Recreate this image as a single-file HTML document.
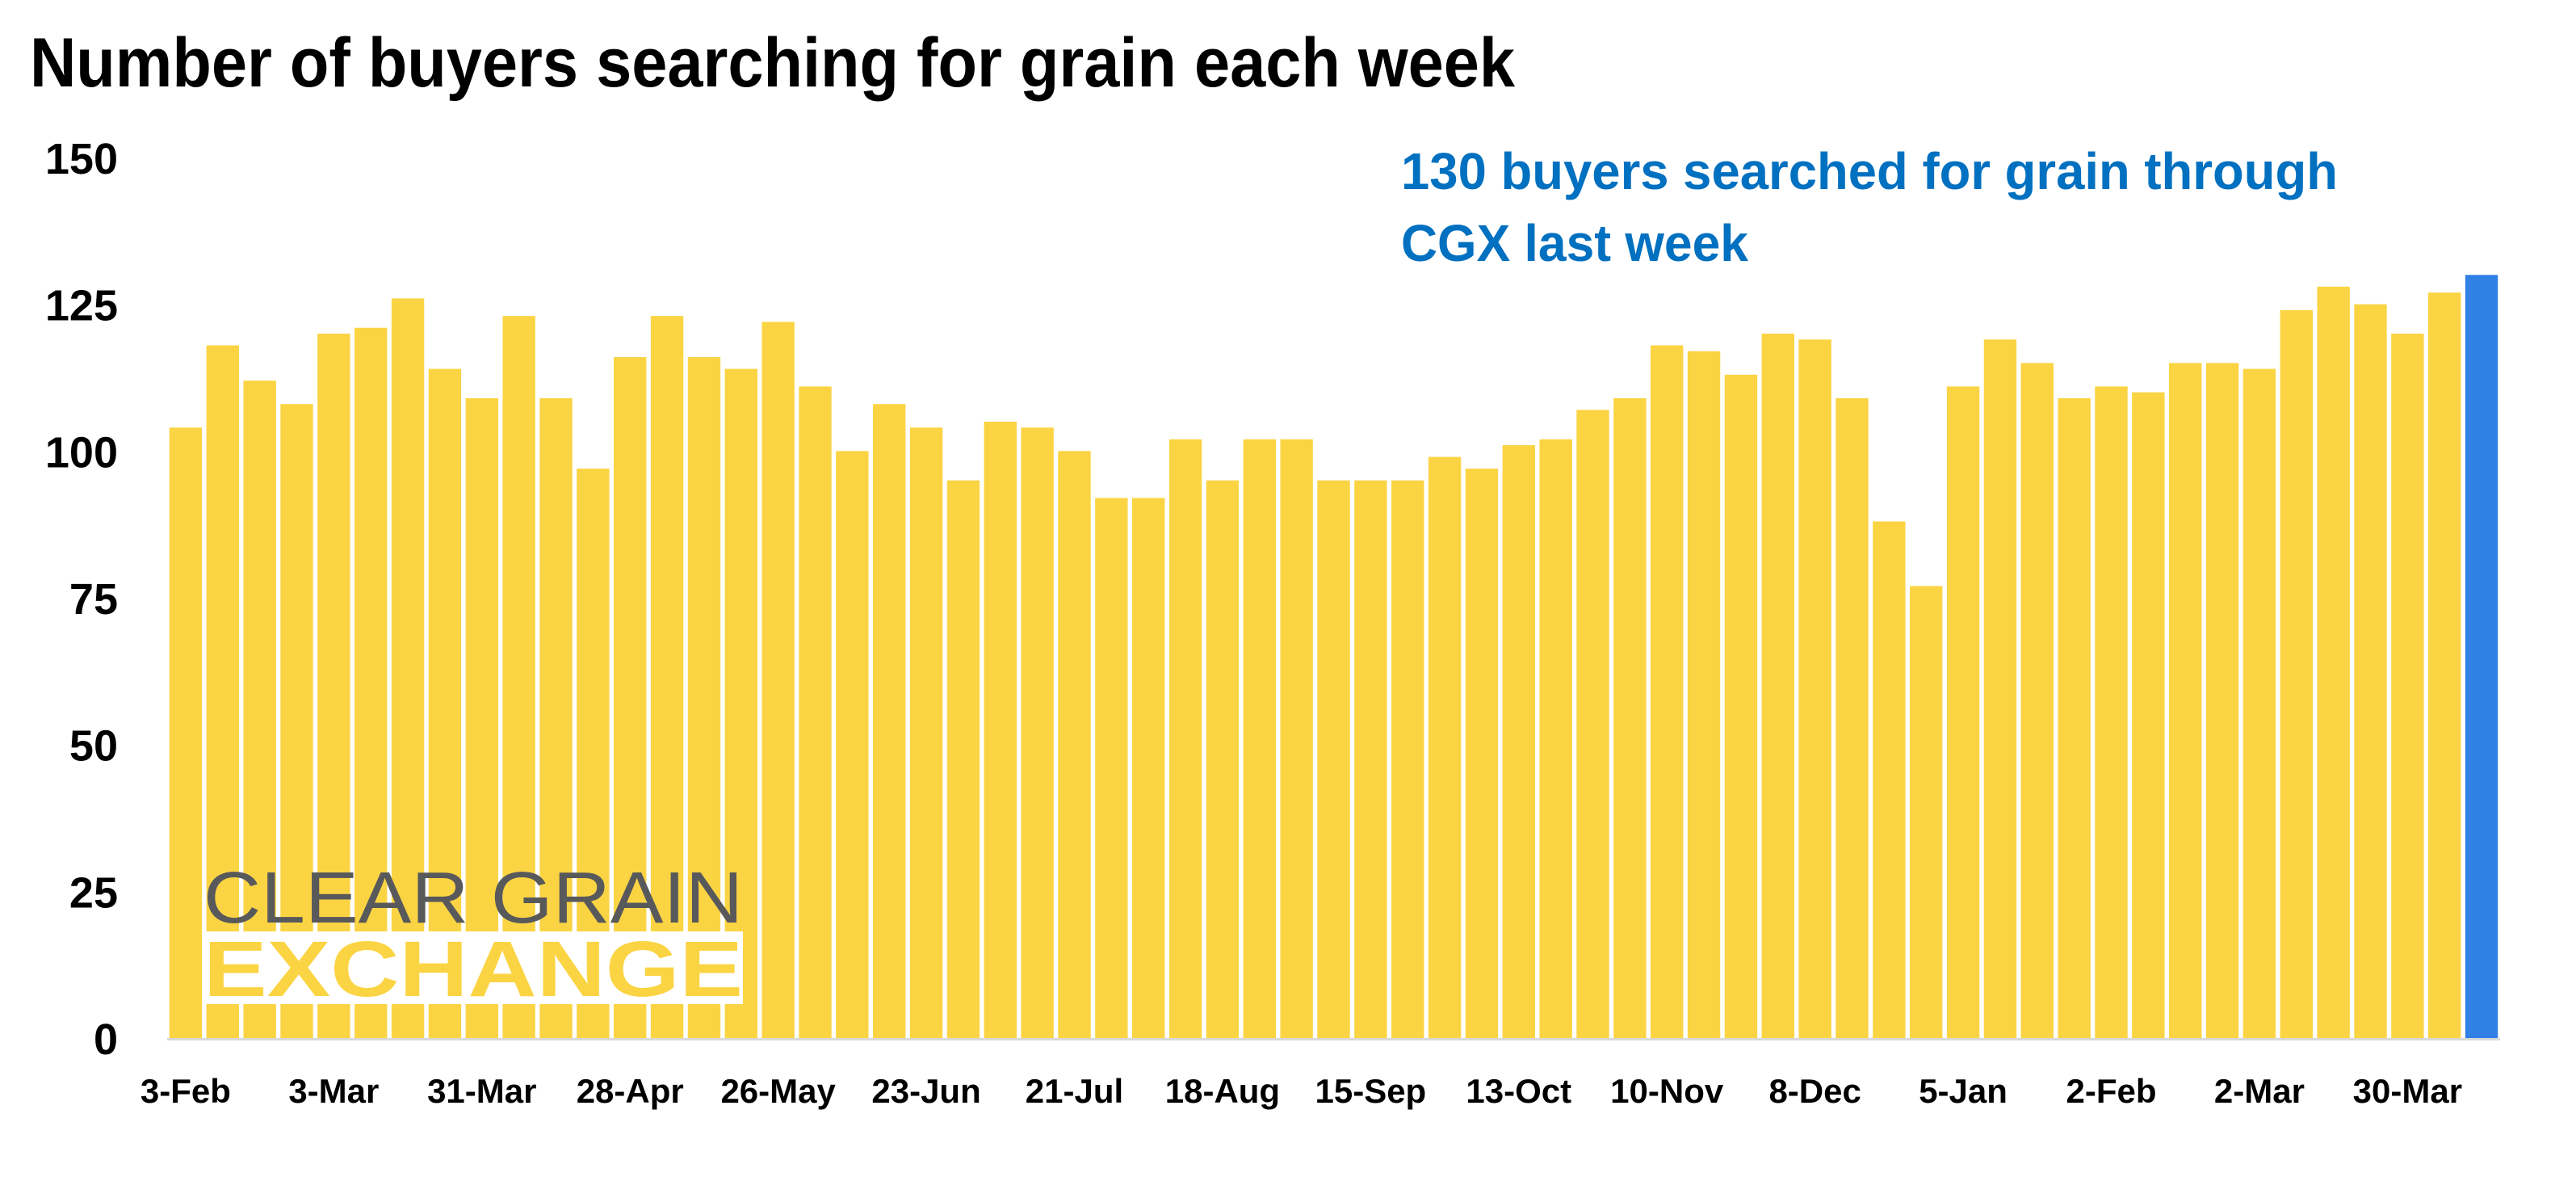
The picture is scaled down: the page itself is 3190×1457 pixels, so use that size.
<!DOCTYPE html>
<html><head><meta charset="utf-8"><style>
html,body{margin:0;padding:0;background:#fff;width:3190px;height:1457px;overflow:hidden}
svg{display:block}
</style></head><body>
<svg id="chart" width="3190" height="1457" viewBox="0 0 3190 1457" xmlns="http://www.w3.org/2000/svg" font-family="'Liberation Sans', sans-serif">
<text x="37" y="107" font-size="86" font-weight="bold" fill="#000" textLength="1839" lengthAdjust="spacingAndGlyphs">Number of buyers searching for grain each week</text>
<g id="yaxis"></g>
<g id="bars"></g>
<g id="xaxis"></g>
<g>
<text x="252" y="1142" font-size="90" fill="#58595b" textLength="668" lengthAdjust="spacingAndGlyphs">CLEAR GRAIN</text>
<rect x="252" y="1153" width="668" height="90" fill="#fff"/>
<text x="252" y="1233" font-size="97" font-weight="bold" fill="#fbd443" textLength="668" lengthAdjust="spacingAndGlyphs">EXCHANGE</text>
</g>
<text x="1735" y="234" font-size="64" font-weight="bold" fill="#0070c0" textLength="1160" lengthAdjust="spacingAndGlyphs">130 buyers searched for grain through</text>
<text x="1735" y="323" font-size="64" font-weight="bold" fill="#0070c0" textLength="430" lengthAdjust="spacingAndGlyphs">CGX last week</text>
</svg>
<script>
const values = [104,118,112,108,120,121,126,114,109,123,109,97,116,123,116,114,122,111,100,108,104,95,105,104,100,92,92,102,95,102,102,95,95,95,99,97,101,102,107,109,118,117,113,120,119,109,88,77,111,119,115,109,111,110,115,115,114,124,128,125,120,127,130];
const xLabels = ["3-Feb","3-Mar","31-Mar","28-Apr","26-May","23-Jun","21-Jul","18-Aug","15-Sep","13-Oct","10-Nov","8-Dec","5-Jan","2-Feb","2-Mar","30-Mar"];
const yTicks = [0,25,50,75,100,125,150];

const NS = "http://www.w3.org/2000/svg";
const x0 = 207, x1 = 3096, yBase = 1285, yTop = 195, yMax = 150;
const pitch = (x1 - x0) / values.length;
const barW = pitch - 5.5;
function yScale(v){ return yBase - (v / yMax) * (yBase - yTop); }
function xCenter(i){ return x0 + (i + 0.5) * pitch; }

const barsG = document.getElementById('bars');
values.forEach((v, i) => {
  const r = document.createElementNS(NS, 'rect');
  r.setAttribute('x', xCenter(i) - barW / 2);
  r.setAttribute('y', yScale(v));
  r.setAttribute('width', barW);
  r.setAttribute('height', yBase - yScale(v));
  r.setAttribute('fill', i === values.length - 1 ? '#3180e6' : '#fbd443');
  
  
  barsG.appendChild(r);
});

const yG = document.getElementById('yaxis');
yTicks.forEach(t => {
  const tx = document.createElementNS(NS, 'text');
  tx.setAttribute('x', 146);
  tx.setAttribute('y', yScale(t) + 20);
  tx.setAttribute('text-anchor', 'end');
  tx.setAttribute('font-size', '54');
  tx.setAttribute('font-weight', 'bold');
  tx.textContent = t;
  
  
  yG.appendChild(tx);
});

const xG = document.getElementById('xaxis');
const axis = document.createElementNS(NS, 'line');
axis.setAttribute('x1', x0); axis.setAttribute('x2', x1);
axis.setAttribute('y1', yBase + 1.5); axis.setAttribute('y2', yBase + 1.5);
axis.setAttribute('stroke', '#d9d9d9'); axis.setAttribute('stroke-width', '3');


xG.appendChild(axis);
xLabels.forEach((l, k) => {
  const tx = document.createElementNS(NS, 'text');
  tx.setAttribute('x', xCenter(k * 4));
  tx.setAttribute('y', 1365);
  tx.setAttribute('text-anchor', 'middle');
  tx.setAttribute('font-size', '42');
  tx.setAttribute('font-weight', 'bold');
  tx.textContent = l;
  
  
  xG.appendChild(tx);
});
</script>
</body></html>
